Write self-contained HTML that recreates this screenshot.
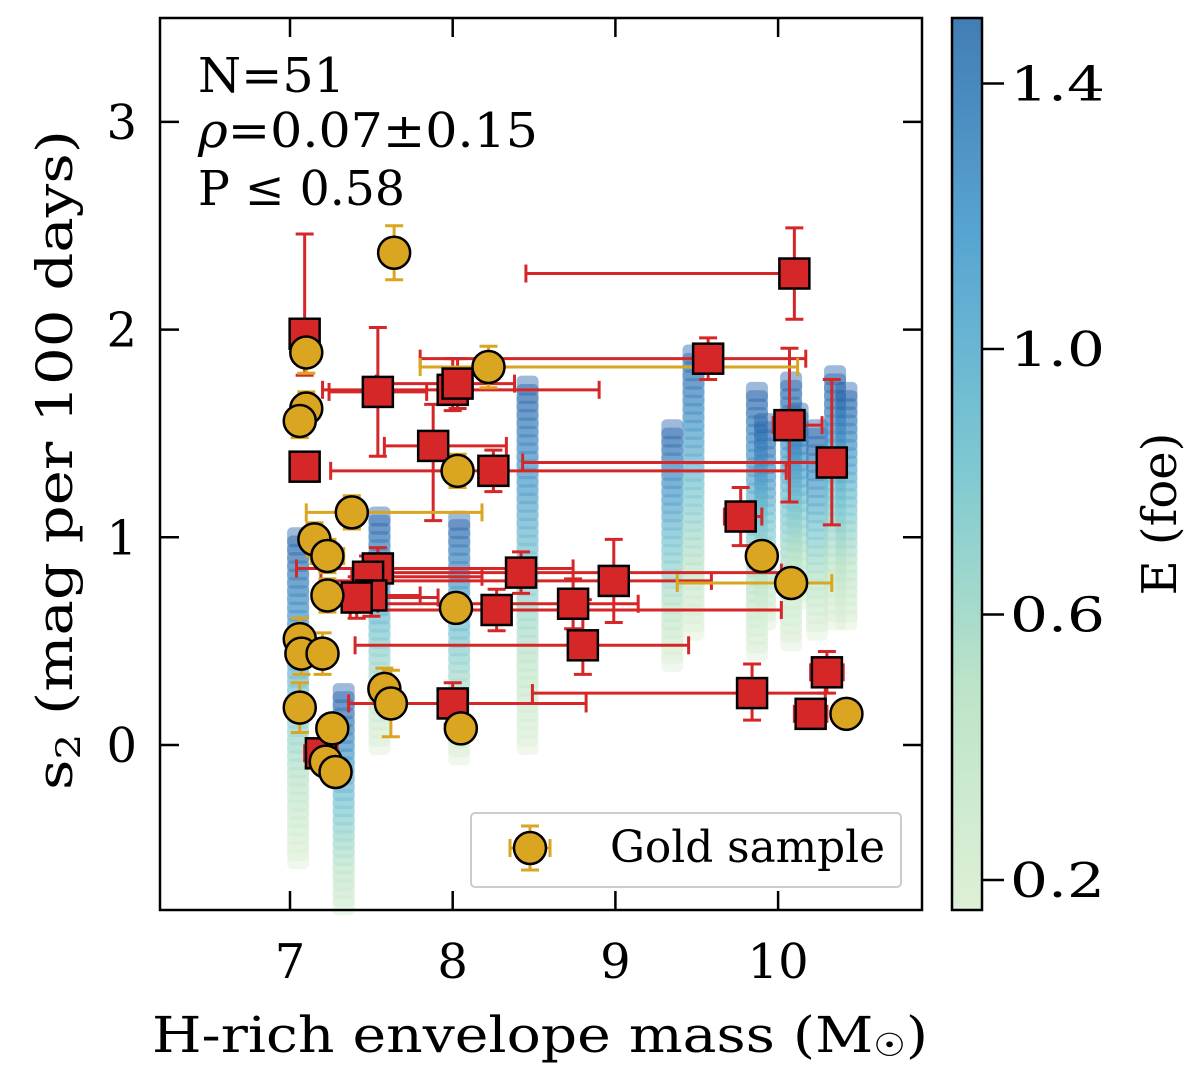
<!DOCTYPE html>
<html><head><meta charset="utf-8"><style>
body{margin:0;background:#fff}
svg text{font-family:"DejaVu Serif","Liberation Serif",serif;fill:#000}
</style></head><body>
<svg id="chart" width="1200" height="1075" viewBox="0 0 1200 1075" xmlns="http://www.w3.org/2000/svg">
<g id="models"></g>
<g id="errs"></g>
<g id="marks"></g>
<rect x="160" y="18" width="762" height="892" fill="none" stroke="#000" stroke-width="2.5"/>
<g id="ticks"></g>
<text x="198" y="92" font-size="48" textLength="147" lengthAdjust="spacingAndGlyphs">N=51</text>
<text x="198" y="147" font-size="48" textLength="340" lengthAdjust="spacingAndGlyphs"><tspan font-style="italic">ρ</tspan>=0.07±0.15</text>
<text x="198" y="205" font-size="48" textLength="207" lengthAdjust="spacingAndGlyphs">P ≤ 0.58</text>
<g>
<rect x="471" y="813" width="430" height="74" rx="4" fill="#fff" fill-opacity="0.85" stroke="#ccc" stroke-width="2"/>
<g stroke="#DAA520" stroke-width="3">
<line x1="510" y1="848" x2="550" y2="848"/><line x1="530" y1="826" x2="530" y2="870"/>
<line x1="521" y1="826" x2="539" y2="826"/><line x1="521" y1="870" x2="539" y2="870"/>
<line x1="510" y1="839" x2="510" y2="857"/><line x1="550" y1="839" x2="550" y2="857"/>
<circle cx="530" cy="848" r="16" fill="#DAA520" stroke="#000" stroke-width="2.5"/></g>
<text x="610" y="862" font-size="44" textLength="275" lengthAdjust="spacingAndGlyphs">Gold sample</text>
</g>
<text x="152" y="1052" font-size="50" textLength="776" lengthAdjust="spacingAndGlyphs">H-rich envelope mass (M<tspan font-size="32" dy="4">☉</tspan><tspan dy="-4">)</tspan></text>
<text transform="translate(72,790) rotate(-90)" font-size="50" textLength="660" lengthAdjust="spacingAndGlyphs">s<tspan font-size="34" dy="8">2</tspan><tspan dy="-8"> (mag per 100 days)</tspan></text>
<defs><linearGradient id="cbg" x1="0" y1="1" x2="0" y2="0">
<stop offset="0" stop-color="rgb(222,240,215)"/><stop offset="0.25" stop-color="rgb(188,228,200)"/>
<stop offset="0.5" stop-color="rgb(125,200,210)"/><stop offset="0.75" stop-color="rgb(88,165,210)"/>
<stop offset="1" stop-color="rgb(66,125,180)"/></linearGradient></defs>
<rect x="952" y="18" width="30" height="892" fill="url(#cbg)" stroke="#000" stroke-width="2.5"/>
<text transform="translate(1176,514) rotate(-90)" font-size="48" text-anchor="middle">E (foe)</text>
</svg>
<script>
const NS='http://www.w3.org/2000/svg';
const xTicks=[7,8,9,10];
const yTicks=[0,1,2,3];
const cbTicks=[0.2,0.6,1.0,1.4];
// model strips: envelope mass, s2 top, s2 bottom
const stripMass=[7.05,7.33,7.55,8.04,8.46,9.35,9.48,9.87,9.92,10.08,10.12,10.24,10.35,10.42];
const stripTop=[1.0,0.25,1.1,1.08,1.73,1.52,1.88,1.7,1.55,1.75,1.6,1.52,1.78,1.7];
const stripBot=[-0.55,-0.85,0.0,-0.05,0.0,0.4,0.55,0.45,0.6,0.5,0.7,0.55,0.6,0.6];
// red sample: mass, s2, mass err low/high, s2 err low/high
const redX=[7.09,7.54,8.0,7.88,8.25,7.09,9.57,10.1,10.07,10.33,9.77,8.99,8.42,7.54,7.48,7.5,7.41,8.27,8.74,8.8,9.84,10.3,10.2,8.0,7.19,8.03];
const redY=[1.98,1.70,1.71,1.44,1.32,1.34,1.86,2.27,1.54,1.36,1.10,0.79,0.83,0.85,0.81,0.72,0.71,0.65,0.68,0.48,0.25,0.35,0.15,0.20,-0.04,1.74];
const redXlo=[0.02,0.3,0.8,0.3,1.0,0.02,1.77,1.65,0.1,1.9,0.1,1.8,0.9,0.5,0.1,0.3,0.1,0.9,1.2,1.4,1.35,0.1,0.1,0.64,0.1,0.5];
const redXhi=[0.02,0.3,0.9,0.45,1.8,0.02,0.6,0.0,0.2,0.0,0.13,0.6,1.6,1.2,0.7,0.3,0.5,1.75,0.4,0.65,0.45,0.1,0.1,0.82,0.1,0.35];
const redYlo=[0.2,0.31,0.1,0.36,0.1,0.05,0.1,0.22,0.37,0.3,0.14,0.2,0.1,0.1,0.1,0.1,0.1,0.1,0.12,0.14,0.13,0.1,0.06,0.1,0.06,0.12];
const redYhi=[0.48,0.31,0.15,0.2,0.1,0.05,0.1,0.22,0.37,0.4,0.14,0.2,0.1,0.1,0.1,0.1,0.1,0.1,0.12,0.22,0.14,0.1,0.06,0.1,0.06,0.12];
// gold sample
const goldX=[7.64,8.22,7.1,7.1,7.06,8.03,7.38,7.15,7.23,9.9,10.08,7.23,8.02,7.06,7.07,7.2,7.06,7.58,7.62,7.26,8.05,7.22,7.28,10.42];
const goldY=[2.37,1.82,1.89,1.62,1.56,1.32,1.12,0.99,0.91,0.91,0.78,0.72,0.66,0.51,0.44,0.44,0.18,0.27,0.20,0.08,0.08,-0.08,-0.13,0.15];
const goldXlo=[0.08,0.42,0.02,0.02,0.02,0.03,0.28,0.03,0.1,0.03,0.7,0.05,0.03,0.03,0.03,0.05,0.03,0.05,0.05,0.03,0.05,0.03,0.03,0.03];
const goldXhi=[0.08,1.9,0.02,0.02,0.02,0.03,0.8,0.03,0.1,0.03,0.25,0.05,0.03,0.03,0.03,0.05,0.03,0.05,0.05,0.03,0.05,0.03,0.03,0.03];
const goldYe=[0.13,0.1,0.1,0.08,0.08,0.08,0.08,0.08,0.08,0.06,0.06,0.08,0.06,0.1,0.1,0.1,0.12,0.1,0.16,0.06,0.06,0.06,0.06,0.06];

const X=v=>290+(v-7)*162.7, Y=v=>745-v*207.7, CB=v=>349-(v-1.0)*663.75;
function el(tag,attrs,parent){const e=document.createElementNS(NS,tag);for(const k in attrs)e.setAttribute(k,attrs[k]);parent.appendChild(e);return e;}
const stops=[[0,[222,240,215]],[0.25,[188,228,200]],[0.5,[125,200,210]],[0.75,[70,150,200]],[1,[40,100,170]]];
function cmap(t){t=Math.max(0,Math.min(1,t));for(let i=1;i<stops.length;i++){if(t<=stops[i][0]){const a=stops[i-1],b=stops[i],f=(t-a[0])/(b[0]-a[0]);return 'rgb('+a[1].map((c,j)=>Math.round(c+(b[1][j]-c)*f)).join(',')+')';}}}
const models=document.getElementById('models');
for(let i=0;i<stripMass.length;i++){
  const n=Math.round((stripTop[i]-stripBot[i])/0.04);
  for(let k=0;k<=n;k++){
    const s=stripBot[i]+(stripTop[i]-stripBot[i])*k/n;
    const t=k/n;
    const py=Y(s);
    if(py<20||py>908) continue;
    const r=el('rect',{x:X(stripMass[i])-11,y:py-10,width:22,height:20,rx:5,fill:cmap(t),'fill-opacity':0.45},models);
    
    
  }
}
const errs=document.getElementById('errs'), marks=document.getElementById('marks');
function ebar(x,y,xl,xh,yl,yh,col){
  const g=el('g',{stroke:col,'stroke-width':3},errs);
  
  
  const cx=X(x),cy=Y(y),x0=X(x-xl),x1=X(x+xh),y0=Y(y-yl),y1=Y(y+yh);
  el('line',{x1:x0,y1:cy,x2:x1,y2:cy},g);el('line',{x1:cx,y1:y0,x2:cx,y2:y1},g);
  el('line',{x1:x0,y1:cy-9,x2:x0,y2:cy+9},g);el('line',{x1:x1,y1:cy-9,x2:x1,y2:cy+9},g);
  el('line',{x1:cx-9,y1:y0,x2:cx+9,y2:y0},g);el('line',{x1:cx-9,y1:y1,x2:cx+9,y2:y1},g);
}
for(let i=0;i<redX.length;i++) ebar(redX[i],redY[i],redXlo[i],redXhi[i],redYlo[i],redYhi[i],'#D62728');
for(let i=0;i<goldX.length;i++) ebar(goldX[i],goldY[i],goldXlo[i],goldXhi[i],goldYe[i],goldYe[i],'#DAA520');
for(let i=0;i<redX.length;i++){
  const r=el('rect',{x:X(redX[i])-15,y:Y(redY[i])-15,width:30,height:30,fill:'#D62728',stroke:'#000','stroke-width':2.5},marks);
  
  
}
for(let i=0;i<goldX.length;i++){
  const c=el('circle',{cx:X(goldX[i]),cy:Y(goldY[i]),r:16,fill:'#DAA520',stroke:'#000','stroke-width':2.5},marks);
  
  
}
const tk=document.getElementById('ticks');
xTicks.forEach(v=>{
  el('line',{x1:X(v),y1:910,x2:X(v),y2:891,stroke:'#000','stroke-width':2.5},tk);
  el('line',{x1:X(v),y1:18,x2:X(v),y2:37,stroke:'#000','stroke-width':2.5},tk);
  const t=el('text',{x:X(v),y:978,'font-size':48,'text-anchor':'middle'},tk);t.textContent=v;
  
  
});
yTicks.forEach(v=>{
  el('line',{x1:160,y1:Y(v),x2:179,y2:Y(v),stroke:'#000','stroke-width':2.5},tk);
  el('line',{x1:922,y1:Y(v),x2:903,y2:Y(v),stroke:'#000','stroke-width':2.5},tk);
  const t=el('text',{x:137,y:Y(v)+17,'font-size':48,'text-anchor':'end'},tk);t.textContent=v;
  
  
});
cbTicks.forEach(v=>{
  el('line',{x1:982,y1:CB(v),x2:1004,y2:CB(v),stroke:'#000','stroke-width':2.5},tk);
  const t=el('text',{x:1010,y:CB(v)+17,'font-size':48,textLength:95,lengthAdjust:'spacingAndGlyphs'},tk);t.textContent=v.toFixed(1);
  
  
});
</script>
</body></html>
